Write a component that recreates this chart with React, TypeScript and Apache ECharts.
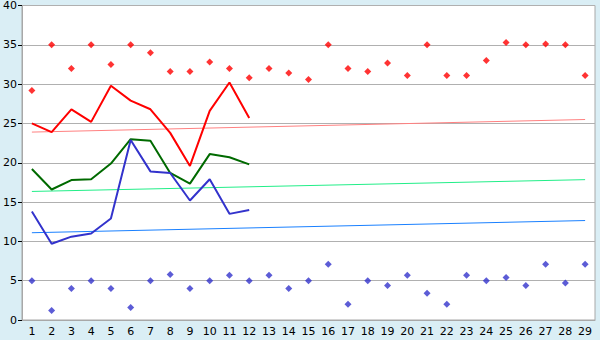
import React, { useEffect, useRef } from "react";
import * as echarts from "echarts";

const categories = Array.from({ length: 29 }, (_, i) => String(i + 1));

const redPoints = [29.2, 35, 32, 35, 32.5, 35, 34, 31.6, 31.6, 32.8, 32, 30.8, 32, 31.4, 30.6, 35, 32, 31.6, 32.7, 31.1, 35, 31.1, 31.1, 33, 35.3, 35, 35.1, 35, 31.1];
const bluePoints = [5, 1.2, 4, 5, 4, 1.6, 5, 5.8, 4, 5, 5.7, 5, 5.7, 4, 5, 7.1, 2, 5, 4.4, 5.7, 3.4, 2, 5.7, 5, 5.4, 4.4, 7.1, 4.7, 7.1];
const redLine = [25, 23.9, 26.8, 25.2, 29.8, 27.9, 26.8, 23.8, 19.6, 26.6, 30.2, 25.7];
const greenLine = [19.2, 16.6, 17.8, 17.9, 19.9, 23, 22.8, 18.7, 17.35, 21.1, 20.7, 19.8];
const blueLine = [13.8, 9.7, 10.6, 11, 12.9, 22.9, 18.9, 18.7, 15.2, 17.9, 13.5, 14];
const redTrend = [23.9, 25.5];
const greenTrend = [16.35, 17.85];
const blueTrend = [11.1, 12.65];

const trendData = (ends: number[]) =>
  categories.map((_, i) => (i === 0 ? ends[0] : i === categories.length - 1 ? ends[1] : null));

export default function App() {
  const ref = useRef<HTMLDivElement>(null);
  useEffect(() => {
    if (!ref.current) return;
    const chart = echarts.init(ref.current, undefined, { renderer: "svg" });
    const font = "DejaVu Sans";
    const lineSeries = (data: (number | null)[], color: string, width: number, connect = false) => ({
      type: "line",
      data,
      showSymbol: false,
      symbol: "none",
      connectNulls: connect,
      lineStyle: { color, width },
      silent: true,
    });
    chart.setOption({
      animation: false,
      backgroundColor: "#daeef5",
      grid: {
        left: 20,
        right: 5,
        top: 5,
        bottom: 20,
        show: true,
        backgroundColor: "#ffffff",
        borderColor: "#a8a8a8",
        borderWidth: 1,
      },
      xAxis: {
        type: "category",
        data: categories,
        boundaryGap: true,
        axisLine: { lineStyle: { color: "#a8a8a8" } },
        axisTick: { alignWithLabel: true, length: 4, lineStyle: { color: "#000" } },
        axisLabel: { color: "#000", fontFamily: font, fontSize: 11, margin: 6, interval: 0 },
        splitLine: { show: false },
      },
      yAxis: {
        type: "value",
        min: 0,
        max: 40,
        interval: 5,
        axisLine: { show: true, lineStyle: { color: "#a8a8a8" } },
        axisTick: { show: true, length: 4, lineStyle: { color: "#000" } },
        axisLabel: { color: "#000", fontFamily: font, fontSize: 11, margin: 5 },
        splitLine: { lineStyle: { color: "#b0b0b0", width: 1 } },
      },
      series: [
        lineSeries(trendData(redTrend), "#ff8080", 1, true),
        lineSeries(trendData(greenTrend), "#22ee88", 1, true),
        lineSeries(trendData(blueTrend), "#1a80ff", 1, true),
        lineSeries(redLine, "#ff0000", 2),
        lineSeries(greenLine, "#006a00", 2),
        lineSeries(blueLine, "#3333cc", 2),
        {
          type: "scatter",
          data: redPoints,
          symbol: "diamond",
          symbolSize: 7,
          itemStyle: { color: "#ff0000" },
        },
        {
          type: "scatter",
          data: bluePoints,
          symbol: "diamond",
          symbolSize: 7,
          itemStyle: { color: "#3333cc" },
        },
      ],
    });
    return () => chart.dispose();
  }, []);
  return <div ref={ref} style={{ width: 600, height: 340, position: "absolute", left: 0, top: 0 }} />;
}
